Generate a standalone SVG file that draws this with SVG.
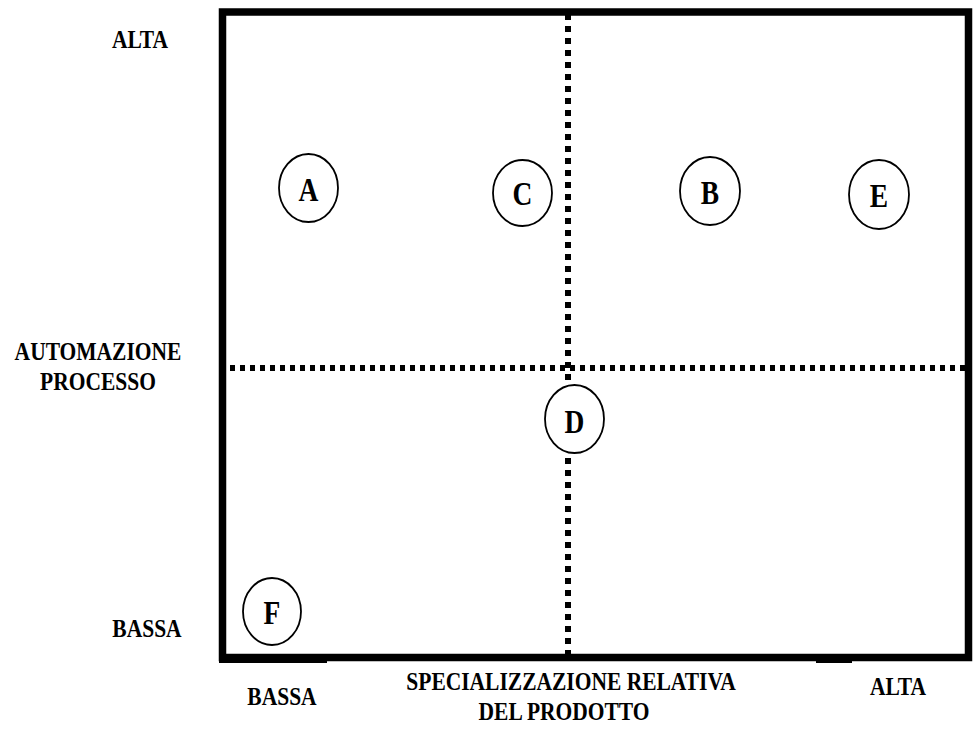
<svg xmlns="http://www.w3.org/2000/svg" width="976" height="731" viewBox="0 0 976 731">
  <style>
    .lbl { font-family: "Liberation Serif", "Times New Roman", serif; font-weight: bold; font-size: 21.5px; fill: #000; text-anchor: middle; }
    .ltr { font-family: "Liberation Serif", "Times New Roman", serif; font-weight: bold; font-size: 27.5px; fill: #000; text-anchor: middle; }
    .node ellipse { fill: #fff; stroke: #000; stroke-width: 1.8; }
    .frame { fill: none; stroke: #000; stroke-width: 7.5; }
    .dotv { stroke: #000; stroke-width: 6; stroke-dasharray: 6 6; fill: none; }
    .doth { stroke: #000; stroke-width: 6; stroke-dasharray: 5 5; fill: none; }
  </style>
  <rect width="976" height="731" fill="#fff"/>

  <!-- axes frame and quadrant dividers -->
  <g id="connectors">
    <line class="dotv" x1="568" y1="14" x2="568" y2="654"/>
    <line class="doth" x1="230" y1="368" x2="966" y2="368"/>
    <rect class="frame" x="222.5" y="12" width="746" height="645.5"/>
    <rect x="219" y="656" width="108" height="7" fill="#000"/>
    <rect x="816" y="656" width="36" height="7" fill="#000"/>
  </g>

  <!-- axis labels -->
  <g id="labels">
    <text class="lbl" transform="matrix(1 0 0 1.2 140 48)">ALTA</text>
    <text class="lbl" transform="matrix(1 0 0 1.2 98 360)">AUTOMAZIONE</text>
    <text class="lbl" transform="matrix(1 0 0 1.2 98 390)">PROCESSO</text>
    <text class="lbl" transform="matrix(1 0 0 1.2 147 637)">BASSA</text>
    <text class="lbl" transform="matrix(1 0 0 1.2 282 705)">BASSA</text>
    <text class="lbl" transform="matrix(1 0 0 1.2 898 695)">ALTA</text>
    <text class="lbl" transform="matrix(1 0 0 1.2 571 690)">SPECIALIZZAZIONE RELATIVA</text>
    <text class="lbl" transform="matrix(1 0 0 1.2 564 720)">DEL PRODOTTO</text>
  </g>

  <!-- products -->
  <g id="node-A" class="node">
    <ellipse cx="308.5" cy="188" rx="29.5" ry="34"/>
    <text class="ltr" transform="matrix(1 0 0 1.2 308.5 201)">A</text>
  </g>
  <g id="node-C" class="node">
    <ellipse cx="522.5" cy="193" rx="29.5" ry="33"/>
    <text class="ltr" transform="matrix(1 0 0 1.2 522.5 205)">C</text>
  </g>
  <g id="node-B" class="node">
    <ellipse cx="710" cy="191" rx="30" ry="34"/>
    <text class="ltr" transform="matrix(1 0 0 1.2 710 204)">B</text>
  </g>
  <g id="node-E" class="node">
    <ellipse cx="879" cy="194.5" rx="30" ry="34.5"/>
    <text class="ltr" transform="matrix(1 0 0 1.2 879 207)">E</text>
  </g>
  <g id="node-D" class="node">
    <ellipse cx="574.5" cy="419" rx="29.5" ry="34"/>
    <text class="ltr" transform="matrix(1 0 0 1.2 574.5 433)">D</text>
  </g>
  <g id="node-F" class="node">
    <ellipse cx="272" cy="611.5" rx="29" ry="33.5"/>
    <text class="ltr" transform="matrix(1 0 0 1.2 272 624)">F</text>
  </g>
</svg>
